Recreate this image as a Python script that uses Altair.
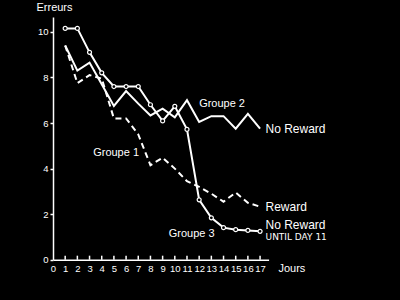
import altair as alt
import pandas as pd

days = list(range(1, 18))
groupe1 = [9.4, 7.75, 8.1, 7.95, 6.2, 6.2, 5.5, 4.15, 4.48, 4.0, 3.45, 3.2, 2.9, 2.55, 2.95, 2.5, 2.33]
groupe2 = [9.4, 8.3, 8.65, 7.7, 6.75, 7.4, 6.85, 6.33, 6.63, 6.25, 7.0, 6.05, 6.3, 6.3, 5.75, 6.4, 5.75]
groupe3 = [10.15, 10.15, 9.1, 8.2, 7.6, 7.6, 7.6, 6.8, 6.09, 6.73, 5.72, 2.63, 1.84, 1.41, 1.32, 1.29, 1.25]

x_ticks = list(range(0, 18))
y_ticks = [0, 2, 4, 6, 8, 10]
tick_len = 0.18

ann_text = ["Groupe 2", "No Reward", "Reward", "No Reward", "Groupe 1", "Groupe 3"]
ann_x = [12.0, 17.45, 17.45, 17.45, 3.3, 9.5]
ann_y = [6.85, 5.72, 2.32, 1.52, 4.68, 1.15]
ann_size = [11, 12, 12, 12, 11, 11]

small_text = ["UNTIL DAY 11"]
small_x = [17.45]
small_y = [1.0]

FONT = "Liberation Sans"

d1 = pd.DataFrame({"day": days, "value": groupe1})
d2 = pd.DataFrame({"day": days, "value": groupe2})
d3 = pd.DataFrame({"day": days, "value": groupe3})
dt = pd.DataFrame({"day": x_ticks[1:], "value": [0] * (len(x_ticks) - 1),
                   "top": [tick_len] * (len(x_ticks) - 1)})
da = pd.DataFrame({"day": ann_x, "value": ann_y, "t": ann_text, "s": ann_size})
ds = pd.DataFrame({"day": small_x, "value": small_y, "t": small_text})

xs = alt.Scale(domain=[0, 17.7], nice=False, zero=False)
ys = alt.Scale(domain=[0, 10.65], nice=False, zero=False)

x_axis = alt.Axis(values=x_ticks, ticks=False, tickSize=0, labelPadding=4, grid=False,
                  domainColor="white", domainWidth=1.5, labelColor="white",
                  labelFontSize=9.5, labelFont=FONT, labelFlush=False, labelOverlap=False,
                  labelBound=False,
                  title="Jours", titleColor="white", titleFont=FONT, titleFontSize=11,
                  titleFontWeight="normal", titleAngle=0, titleAlign="left",
                  titleBaseline="middle", titleX=225, titleY=9)
y_axis = alt.Axis(values=y_ticks, tickSize=3, tickColor="white", tickWidth=1.5,
                  labelPadding=2, grid=False, domainColor="white", domainWidth=1.5,
                  labelColor="white", labelFontSize=9.5, labelFont=FONT, labelFlush=False,
                  labelOverlap=False,
                  title="Erreurs", titleColor="white", titleFont=FONT, titleFontSize=11,
                  titleFontWeight="normal", titleAngle=0, titleAlign="left",
                  titleBaseline="middle", titleX=-17, titleY=-10)

X = alt.X("day:Q", scale=xs, axis=x_axis)
Y = alt.Y("value:Q", scale=ys, axis=y_axis)

l2 = alt.Chart(d2).mark_line(color="white", strokeWidth=2).encode(x=X, y=Y)
l1 = alt.Chart(d1).mark_line(color="white", strokeWidth=2, strokeDash=[6, 4]).encode(x=X, y=Y)
l3 = alt.Chart(d3).mark_line(color="white", strokeWidth=2).encode(x=X, y=Y)
p3 = alt.Chart(d3).mark_point(shape="circle", fill="black", fillOpacity=1, stroke="white",
                              strokeWidth=1.2, size=16, opacity=1).encode(x=X, y=Y)
ticks = alt.Chart(dt).mark_rule(color="white", strokeWidth=1.5).encode(
    x=X, y=Y, y2="top:Q")
ann = alt.Chart(da).mark_text(color="white", font=FONT, align="left", baseline="middle").encode(
    x=X, y=Y, text="t:N", size=alt.Size("s:Q", scale=None, legend=None))
small = alt.Chart(ds).mark_text(color="white", font="DejaVu Sans", align="left",
                                baseline="middle", fontSize=9).encode(x=X, y=Y, text="t:N")

chart = alt.layer(l2, l1, l3, p3, ticks, ann, small).properties(
    width=215.6, height=242.8, background="black",
    autosize=alt.AutoSizeParams(type="none"),
    padding={"left": 53, "top": 17, "right": 131, "bottom": 40},
).configure_view(stroke=None)

chart.save("out.html", embed_options={"renderer": "svg", "actions": False})
